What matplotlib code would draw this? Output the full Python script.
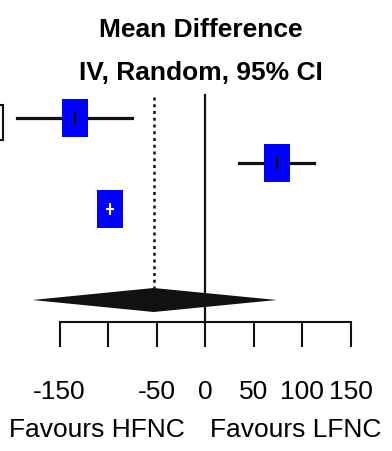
import matplotlib.pyplot as plt
import matplotlib.patches as patches
import numpy as np

plt.rcParams['font.family'] = ['Liberation Sans', 'DejaVu Sans']
plt.rcParams['font.size'] = 19

# study estimates (mean difference, IV random, 95% CI)
est = [-134, 74, -98]
ci_lo = [-194, 35, -101]
ci_hi = [-75, 112, -95]
# pooled estimate
pooled_est = -53
pooled_lo = -178
pooled_hi = 74

ticks = [-150, -100, -50, 0, 50, 100, 150]
tick_labels = ['-150', '', '-50', '0', '50', '100', '150']

# layout (rows in pixel units from top)
row_y = [118, 163, 209]
diamond_y = 300
axis_y = 322
px_per_unit = 0.97
zero_px = 205

fig = plt.figure(figsize=(3.92, 4.51), dpi=100)
ax = fig.add_axes([0, 0, 1, 1])
ax.set_xlim(-zero_px / px_per_unit, (392 - zero_px) / px_per_unit)
ax.set_ylim(451, 0)

# box marker, taller than wide
box = [(-0.35, -0.5), (0.35, -0.5), (0.35, 0.5), (-0.35, 0.5), (-0.35, -0.5)]

ink = '#111111'
for i in range(len(est)):
    inner = i == 2  # CI fully inside the box -> drawn white
    c = 'white' if inner else ink
    if not inner:
        ax.plot([ci_lo[i], ci_hi[i]], [row_y[i], row_y[i]], color=ink, lw=2.3, zorder=2)
    ax.plot(est[i], row_y[i], marker=box, markersize=27, color='#0000ff',
            markeredgewidth=0, linestyle='None', zorder=3)
    if inner:
        ax.plot([ci_lo[i], ci_hi[i]], [row_y[i], row_y[i]], color='white', lw=1.5, zorder=4)
    ax.plot(est[i], row_y[i], marker='|', markersize=8 if inner else 10,
            markeredgewidth=1.5, color=c, linestyle='None', zorder=4)

# pooled diamond
ax.fill([pooled_lo, pooled_est, pooled_hi, pooled_est],
        [diamond_y, diamond_y - 12, diamond_y, diamond_y + 12],
        color=ink, lw=0, zorder=3)

# reference lines
ax.plot([pooled_est, pooled_est], [97, diamond_y - 12], color=ink, lw=1.8,
        linestyle=(0, (1.2, 1.5)), zorder=1)
ax.plot([0, 0], [95, axis_y], color=ink, lw=1.6, zorder=1)

# x axis
for s in ['top', 'right', 'left']:
    ax.spines[s].set_visible(False)
ax.spines['bottom'].set_position(('data', axis_y))
ax.spines['bottom'].set_bounds(ticks[0], ticks[-1])
ax.spines['bottom'].set_linewidth(1.5)
ax.spines['bottom'].set_color(ink)
ax.set_xticks(ticks)
ax.set_xticklabels(tick_labels)
ax.tick_params(axis='x', direction='out', length=18, width=1.5, color=ink, pad=24)
ax.set_yticks([])

# titles and favours labels
ax.text(-4, 30, 'Mean Difference', ha='center', va='center', fontweight='bold')
ax.text(-4, 73, 'IV, Random, 95% CI', ha='center', va='center', fontweight='bold')
ax.text(-111, 430, 'Favours HFNC', ha='center', va='center')
ax.text(94, 430, 'Favours LFNC', ha='center', va='center')

# clipped bracket at left edge (remnant of left column)
fig.patches.append(patches.Rectangle((-6 / 392, 1 - 140 / 451), 9 / 392, 35 / 451,
                                     transform=fig.transFigure, fill=False,
                                     edgecolor=ink, lw=1.5))

fig.savefig('out.png', dpi=100)
